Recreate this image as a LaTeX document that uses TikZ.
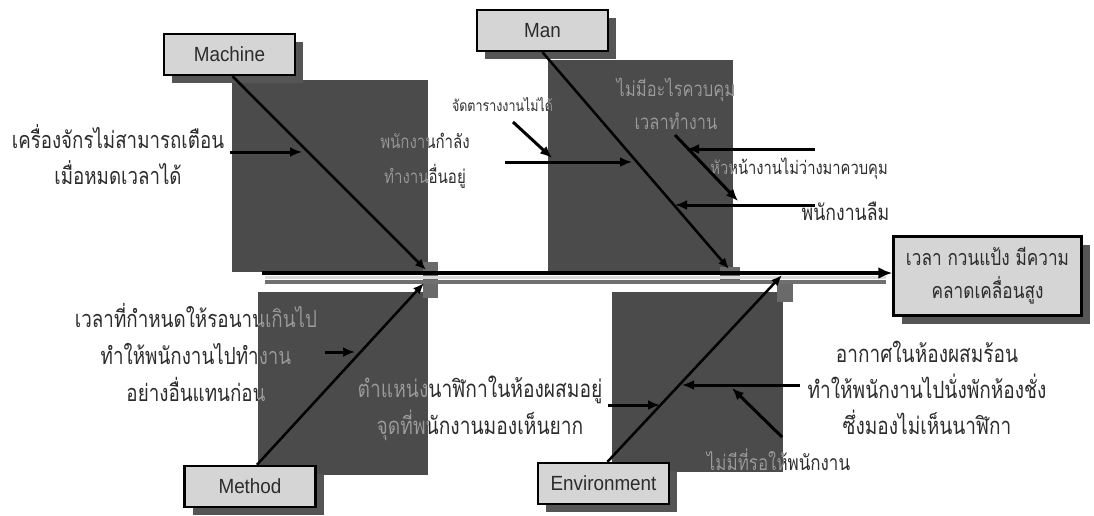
\documentclass[tikz,border=0pt]{standalone}
\usepackage{fontspec}
\setmainfont{Liberation Sans}[FakeStretch=0.92]
\newfontfamily\thaifont[Script=Thai,FakeStretch=0.8]{Loma}
\usetikzlibrary{arrows.meta,shadows,calc}

\definecolor{panel}{HTML}{4B4B4B}
\definecolor{junction}{HTML}{6A6A6A}
\definecolor{boxfill}{HTML}{D5D5D5}
\definecolor{boxshade}{HTML}{555555}
\definecolor{inkdark}{HTML}{2C2C2C}
\definecolor{inklight}{HTML}{9C9C9C}
\definecolor{spinegray}{HTML}{707070}
\definecolor{spinelight}{HTML}{DADADA}

% Thai text at a given size and line distance
\newcommand\thaisize[2]{\thaifont\fontsize{#1}{#2}\selectfont}

\tikzset{
  catbox/.style={draw=black, line width=2.5pt, fill=boxfill, minimum width=131pt,
    minimum height=41pt, inner sep=0pt, font=\fontsize{20.5}{22}\selectfont, text=inkdark,
    drop shadow={shadow xshift=8pt, shadow yshift=-8pt, fill=boxshade, opacity=1}},
  effectbox/.style={catbox, minimum width=188pt, minimum height=79pt, align=center,
    font=\thaisize{21.5}{33}},
  causetext/.style={align=center, inner sep=0pt},
  bone/.style={line width=2.5pt, -{Latex[length=11pt,width=9pt]}},
  causearrow/.style={line width=3pt, -{Latex[length=12pt,width=10pt]}},
}

% cause texts, drawn once in dark ink and once in light ink over the panels
\newcommand\drawcauses[2]{%
  \node[causetext,text=#1,font=\thaisize{23.4}{36}] (machcause#2) at (118,155) {เครื่องจักรไม่สามารถเตือน\\เมื่อหมดเวลาได้};
  \node[causetext,text=#1,font=\thaisize{18.8}{35}] (busy#2) at (425,161) {พนักงานกำลัง\\ทำงานอื่นอยู่};
  \node[causetext,text=#1,font=\thaisize{15.6}{18}] (schedule#2) at (502.5,105) {จัดตารางงานไม่ได้};
  \node[causetext,text=#1,font=\thaisize{20.6}{33}] (nocontrol#2) at (676,104) {ไม่มีอะไรควบคุม\\เวลาทำงาน};
  \node[causetext,text=#1,font=\thaisize{18.4}{20}] (chief#2) at (799,169) {หัวหน้างานไม่ว่างมาควบคุม};
  \node[causetext,text=#1,font=\thaisize{22.1}{24}] (forget#2) at (845.5,211) {พนักงานลืม};
  \node[causetext,text=#1,font=\thaisize{23.5}{37}] (wait#2) at (196,352) {เวลาที่กำหนดให้รอนานเกินไป\\ทำให้พนักงานไปทำงาน\\อย่างอื่นแทนก่อน};
  \node[causetext,text=#1,font=\thaisize{24}{37}] (clock#2) at (480,408) {ตำแหน่งนาฬิกาในห้องผสมอยู่\\จุดที่พนักงานมองเห็นยาก};
  \node[causetext,text=#1,font=\thaisize{21.2}{24}] (noroom#2) at (778.5,460) {ไม่มีที่รอให้พนักงาน};
  \node[causetext,text=#1,font=\thaisize{23.8}{36}] (hot#2) at (927,388) {อากาศในห้องผสมร้อน\\ทำให้พนักงานไปนั่งพักห้องชั่ง\\ซึ่งมองไม่เห็นนาฬิกา};
}

\begin{document}
\begin{tikzpicture}[x=1pt,y=-1pt]
\useasboundingbox (0,0) rectangle (1094,515);

% dark panels behind each bone
\fill[panel] (232,80) rectangle (428,272);
\fill[panel] (548,60) rectangle (733,272);
\fill[panel] (258,292) rectangle (428,475);
\fill[panel] (612,292) rectangle (783,472);

% pads where the bones meet the spine
\fill[junction] (423,262) rectangle (438,298);
\fill[junction] (720,267) rectangle (740,284);
\fill[junction] (777,283) rectangle (793,302);

% category boxes and the effect box
\node[catbox] (machine) at (229.5,54.5) {Machine};
\node[catbox] (man) at (542.5,30.5) {Man};
\node[catbox] (method) at (250,486.5) {Method};
\node[catbox] (environment) at (603.5,483.5) {Environment};
\node[effectbox] (effect) at (987.5,276) {เวลา กวนแป้ง มีความ\\คลาดเคลื่อนสูง};

% texts
\drawcauses{inkdark}{}
\begin{scope}
  \clip (232,80) rectangle (428,272) (548,60) rectangle (733,272)
        (258,292) rectangle (428,475) (612,292) rectangle (783,472);
  \drawcauses{inklight}{x}
\end{scope}

% spine
\coordinate (tail) at (262,273);
\draw[spinegray, line width=4pt] ($(tail)+(3,9)$) -- ($(tail -| effect.west)+(-6,9)$);
\draw[spinelight, line width=3pt] ($(tail)+(3,4.5)$) -- ($(tail -| effect.west)+(-6,4.5)$);
\draw[black, line width=3.5pt, -{Latex[length=14pt,width=12pt]}] (tail) -- (tail -| effect.west);

% bones
\coordinate (jM) at (426,270);
\coordinate (jN) at (729,269);
\coordinate (jT) at (424,283);
\coordinate (jE) at (782,275);
\draw[bone] ($(machine.south)+(3,0)$) -- (jM);
\draw[bone] (man.south) -- (jN);
\draw[bone] ($(method.north)+(7,0)$) -- (jT);
\draw[bone] ($(environment.north)+(4,0)$) -- (jE);

% cause arrows
\coordinate (a1s) at (230,152);  \coordinate (a1e) at (302,152);
\coordinate (a2s) at (513,122);  \coordinate (a2e) at (552,158);
\coordinate (a3s) at (505,162);  \coordinate (a3e) at (632,162);
\coordinate (a4s) at (815,149);  \coordinate (a4e) at (687,149);
\coordinate (sbs) at (675,135);  \coordinate (sbe) at (738,201);
\coordinate (a5s) at (815,205);  \coordinate (a5e) at (675,205);
\coordinate (a6s) at (325,352);  \coordinate (a6e) at (355,352);
\coordinate (a7s) at (608,405);  \coordinate (a7e) at (660,405);
\coordinate (a8s) at (800,385);  \coordinate (a8e) at (682,385);
\coordinate (a9s) at (782,437);  \coordinate (a9e) at (732,388);
\foreach \a in {a1,a2,a3,a4,a5,a6,a7,a8,a9}
  \draw[causearrow] (\a s) -- (\a e);
\draw[causearrow] (sbs) -- (sbe);
\end{tikzpicture}
\end{document}
